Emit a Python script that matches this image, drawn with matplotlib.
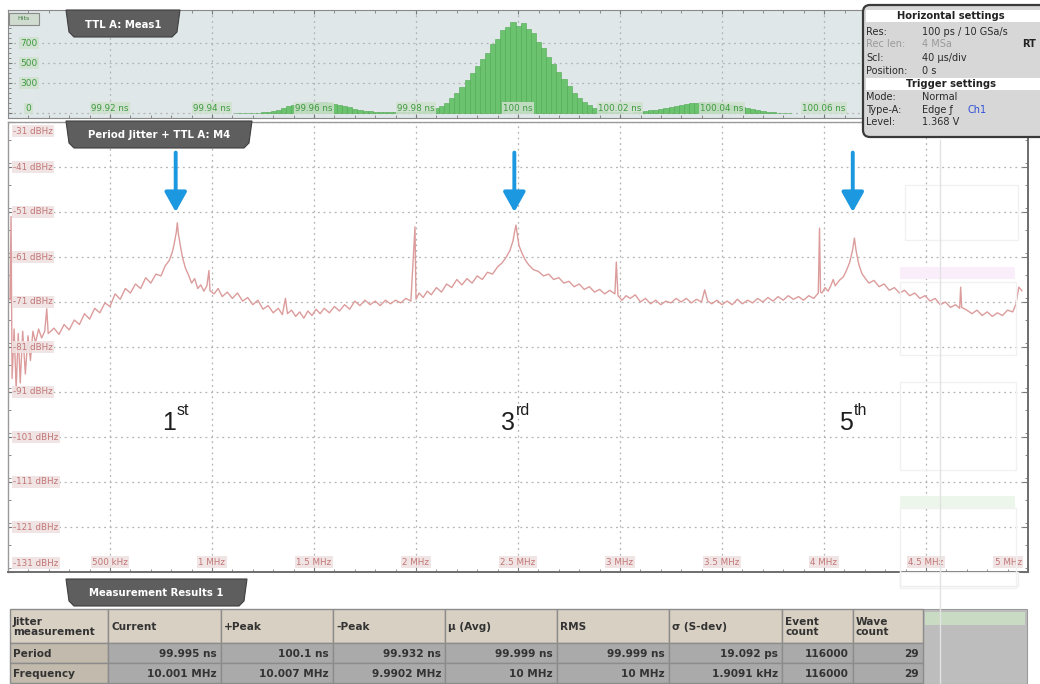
import numpy as np
import matplotlib
matplotlib.use("Agg")
import matplotlib.pyplot as plt
from matplotlib.patches import Rectangle, Polygon, FancyBboxPatch
from matplotlib.ticker import MultipleLocator

W, H = 1040, 684

# ---- period histogram (top panel) ----
HIST_START = 99.945   # ns, centre of first bin
HIST_BIN = 0.001      # ns
HIST_COUNTS = [0, 0, 0, 1, 3, 6, 12, 22, 35, 52, 66, 80, 92, 100, 108, 104, 112, 106, 98, 92,
               80, 70, 58, 44, 34, 25, 18, 12, 9, 8, 10, 12, 8, 11, 14, 12, 16, 22, 32, 46,
               70, 102, 150, 205, 262, 330, 398, 470, 545, 600, 690, 745, 830, 860, 915, 870,
               905, 845, 805, 715, 650, 560, 490, 415, 345, 270, 205, 150, 112, 76, 52, 34,
               22, 14, 9, 6, 4, 5, 8, 12, 18, 26, 34, 44, 55, 64, 74, 84, 92, 98, 104, 108,
               102, 106, 98, 92, 84, 78, 68, 58, 48, 38, 29, 21, 14, 9, 5, 2, 0]
HIST_TICKS = [99.92, 99.94, 99.96, 99.98, 100.0, 100.02, 100.04, 100.06]
HIST_LABELS = ["99.92 ns", "99.94 ns", "99.96 ns", "99.98 ns", "100 ns",
               "100.02 ns", "100.04 ns", "100.06 ns"]
HIST_YTICKS = [0, 300, 500, 700]

# ---- period jitter spectrum (main panel) ----
SPEC_FREQ = [0.010, 0.015, 0.020, 0.030, 0.040, 0.050, 0.060, 0.072, 0.085, 0.098, 0.110, 0.122,
             0.135, 0.150, 0.165, 0.180, 0.190, 0.197, 0.210,
             0.225, 0.25, 0.275, 0.30, 0.325, 0.35, 0.375, 0.40, 0.425, 0.45, 0.475, 0.50,
             0.525, 0.55, 0.575, 0.60, 0.625, 0.65, 0.675, 0.70, 0.725, 0.75, 0.77, 0.79,
             0.805, 0.815, 0.825, 0.830, 0.835, 0.845, 0.855, 0.87, 0.885, 0.90, 0.915, 0.93,
             0.945, 0.96, 0.975, 0.985, 0.99, 1.01, 1.03, 1.05, 1.075, 1.10, 1.125, 1.15,
             1.175, 1.20, 1.225, 1.25, 1.275, 1.30, 1.325, 1.345, 1.36, 1.37, 1.39, 1.41,
             1.43, 1.45, 1.47, 1.49, 1.51, 1.53, 1.55, 1.575, 1.60, 1.625, 1.65, 1.675,
             1.70, 1.725, 1.75, 1.775, 1.80, 1.825, 1.85, 1.875, 1.90, 1.925, 1.95, 1.975,
             1.995, 2.00, 2.015, 2.035, 2.055, 2.075, 2.10, 2.125, 2.15, 2.175, 2.20, 2.225,
             2.25, 2.275, 2.30, 2.325, 2.35, 2.375, 2.40, 2.42, 2.44, 2.46, 2.475, 2.485,
             2.49, 2.495, 2.505, 2.52, 2.535, 2.55, 2.575, 2.60, 2.625, 2.65, 2.675, 2.70,
             2.725, 2.75, 2.775, 2.80, 2.825, 2.85, 2.875, 2.90, 2.925, 2.95, 2.975, 2.982,
             2.99, 3.01, 3.03, 3.05, 3.075, 3.10, 3.125, 3.15, 3.175, 3.20, 3.225, 3.25,
             3.275, 3.30, 3.325, 3.35, 3.375, 3.40, 3.415, 3.43, 3.45, 3.475, 3.50, 3.525,
             3.55, 3.575, 3.60, 3.625, 3.65, 3.675, 3.70, 3.725, 3.75, 3.775, 3.80, 3.825,
             3.85, 3.875, 3.90, 3.925, 3.95, 3.972, 3.978, 3.983, 3.99, 4.005, 4.02, 4.035,
             4.045, 4.055, 4.075, 4.095, 4.11, 4.125, 4.14, 4.149, 4.158, 4.17, 4.185, 4.20,
             4.22, 4.245, 4.27, 4.295, 4.32, 4.345, 4.37, 4.395, 4.42, 4.445, 4.47, 4.495,
             4.52, 4.545, 4.57, 4.595, 4.62, 4.645, 4.665, 4.670, 4.675, 4.70, 4.725, 4.75,
             4.775, 4.80, 4.825, 4.85, 4.875, 4.90, 4.925, 4.94, 4.955, 4.97]
SPEC_DB = [-70.5, -52.0, -88.0, -77.0, -90.5, -78.0, -89.0, -77.5, -87.0, -78.5, -84.0, -77.5,
           -80.0, -77.0, -79.0, -77.5, -72.5, -78.0, -77.5,
           -76.8, -78.2, -76.0, -77.2, -75.0, -76.0, -73.6, -74.8, -72.4, -73.4, -71.2, -72.0,
           -69.2, -70.4, -68.0, -69.0, -67.0, -68.0, -65.6, -66.8, -64.8, -65.2, -63.0, -61.8,
           -60.0, -58.0, -55.5, -53.4, -55.8, -58.5, -61.0, -63.5, -65.0, -66.8, -65.8, -68.0,
           -67.2, -68.6, -67.4, -64.0, -68.5, -69.2, -68.0, -69.8, -68.8, -70.2, -69.0, -70.8,
           -70.0, -71.6, -70.6, -72.6, -71.8, -73.4, -72.4, -73.8, -70.2, -73.6, -72.8, -74.2,
           -73.2, -74.6, -73.0, -74.0, -72.6, -73.6, -72.4, -73.4, -72.0, -73.0, -71.6, -72.6,
           -70.8, -71.8, -70.6, -71.6, -70.8, -71.8, -70.6, -71.4, -70.6, -71.2, -70.2, -70.8,
           -54.3, -70.4, -69.0, -70.0, -68.6, -69.4, -67.8, -68.8, -67.0, -67.8, -66.0, -67.2,
           -65.8, -66.8, -65.2, -66.0, -64.4, -64.8, -63.2, -62.4, -61.2, -59.6, -57.5, -55.0,
           -53.9, -55.5, -58.5, -60.2, -61.6, -62.6, -63.8, -64.2, -65.2, -64.8, -66.0, -65.6,
           -66.8, -66.4, -67.6, -67.0, -68.2, -67.6, -68.8, -68.2, -69.2, -68.4, -69.2, -62.1,
           -69.6, -70.6, -69.6, -70.2, -69.4, -71.0, -70.2, -71.4, -70.6, -71.6, -70.8, -71.2,
           -70.2, -71.0, -70.2, -71.2, -70.4, -71.0, -68.3, -70.8, -71.4, -70.6, -71.6, -70.8,
           -71.6, -70.4, -71.4, -70.6, -71.2, -70.2, -71.0, -70.0, -70.8, -69.8, -70.6, -69.6,
           -70.4, -69.8, -70.6, -69.6, -70.2, -69.0, -54.6, -68.8, -69.0, -67.8, -68.6, -67.2,
           -66.0, -67.4, -66.2, -65.4, -64.0, -62.3, -59.5, -56.8, -59.8, -62.5, -64.6, -65.6,
           -66.8, -66.2, -67.6, -67.0, -68.4, -67.8, -69.0, -68.4, -69.6, -69.0, -70.2, -69.6,
           -70.8, -70.2, -71.6, -71.0, -72.2, -71.6, -72.4, -67.7, -72.2, -72.8, -73.6, -72.8,
           -74.0, -73.2, -74.2, -73.4, -74.0, -72.8, -73.2, -71.6, -67.7, -68.5]
FREQ_TICKS = [0.5, 1.0, 1.5, 2.0, 2.5, 3.0, 3.5, 4.0, 4.5, 5.0]
FREQ_LABELS = ["500 kHz", "1 MHz", "1.5 MHz", "2 MHz", "2.5 MHz", "3 MHz", "3.5 MHz",
               "4 MHz", "4.5 MHz", "5 MHz"]
DB_TICKS = [-31, -41, -51, -61, -71, -81, -91, -101, -111, -121, -131]

PEAK_FREQ = [0.830, 2.490, 4.149]
PEAK_NUM = ["1", "3", "5"]
PEAK_SUF = ["st", "rd", "th"]

# ---- measurement table ----
TABLE_HEAD = ["Jitter\nmeasurement", "Current", "+Peak", "-Peak", "\u00b5 (Avg)", "RMS",
              "\u03c3 (S-dev)", "Event\ncount", "Wave\ncount"]
ROW_NAMES = ["Period", "Frequency"]
PERIOD_VALUES = ["99.995 ns", "100.1 ns", "99.932 ns", "99.999 ns", "99.999 ns",
                 "19.092 ps", "116000", "29"]
FREQUENCY_VALUES = ["10.001 MHz", "10.007 MHz", "9.9902 MHz", "10 MHz", "10 MHz",
                    "1.9091 kHz", "116000", "29"]

HORIZ_SETTINGS = [("Res:", "100 ps / 10 GSa/s"), ("Rec len:", "4 MSa"),
                  ("Scl:", "40 \u00b5s/div"), ("Position:", "0 s")]
TRIG_SETTINGS = [("Mode:", "Normal"), ("Type-A:", "Edge \u0192"), ("Level:", "1.368 V")]

fig = plt.figure(figsize=(W / 100, H / 100), dpi=100)
fig.patch.set_facecolor("white")


def px_axes(x0, y0, x1, y1):
    return fig.add_axes([x0 / W, 1 - y1 / H, (x1 - x0) / W, (y1 - y0) / H])


grid_kw = dict(color="#b4b4b4", linestyle=(0, (1.5, 3)), linewidth=0.9)

# ---------------- top histogram ----------------
axh = px_axes(8, 10, 866, 118)
axh.set_facecolor("#dfe7e8")
centers = HIST_START + HIST_BIN * np.arange(len(HIST_COUNTS))
axh.bar(centers, HIST_COUNTS, width=HIST_BIN, color="#6cc36f", edgecolor="#4ea851",
        linewidth=0.4, zorder=2)
axh.set_xlim(99.9, 100.0682)
axh.set_ylim(-50, 1030)
axh.set_xticks(HIST_TICKS)
axh.set_yticks(HIST_YTICKS)
axh.xaxis.set_minor_locator(MultipleLocator(0.004))
axh.yaxis.set_minor_locator(MultipleLocator(50))
axh.grid(True, **grid_kw)
axh.set_axisbelow(True)
axh.tick_params(which="both", direction="in", top=True, bottom=True, left=True,
                labelbottom=False, labelleft=False, color="#7a7a7a", length=3)
axh.tick_params(which="minor", length=2)
for s in axh.spines.values():
    s.set_color("#8a8a8a")
hbox = dict(boxstyle="square,pad=0.15", fc="#cfe0cf", ec="none", alpha=0.85)
for t, lab in zip(HIST_TICKS, HIST_LABELS):
    axh.text(t, 0.09, lab, transform=axh.get_xaxis_transform(), ha="center", va="center",
             fontsize=6.3, color="#3f9a3f", bbox=hbox, zorder=4)
for v in HIST_YTICKS:
    axh.text(0.024, v, str(v), transform=axh.get_yaxis_transform(), ha="center",
             va="bottom" if v == 0 else "center", fontsize=6.5, color="#3f9a3f",
             bbox=hbox, zorder=4)

# ---------------- main spectrum ----------------
ax = px_axes(8, 122, 1028, 572)
ax.set_facecolor("white")
ax.plot(SPEC_FREQ, SPEC_DB, color="#dc9c9c", lw=1.0, zorder=3)
ax.set_xlim(0, 4.978)
ax.set_ylim(-131, -31)
ax.set_xticks(FREQ_TICKS)
ax.set_yticks(DB_TICKS)
ax.xaxis.set_minor_locator(MultipleLocator(0.1))
ax.yaxis.set_minor_locator(MultipleLocator(5))
ax.grid(True, **grid_kw)
ax.set_axisbelow(True)
ax.tick_params(which="both", direction="in", left=True, right=True, bottom=True,
               labelbottom=False, labelleft=False, color="#7a7a7a", length=4)
ax.tick_params(which="minor", length=2.5)
for name, s in ax.spines.items():
    s.set_color("#6e6e6e" if name in ("bottom", "right") else "#9a9a9a")
    s.set_linewidth(1.4 if name in ("bottom", "right") else 1.0)

mbox = dict(boxstyle="square,pad=0.15", fc="#efe2e2", ec="none", alpha=0.9)
for db in DB_TICKS:
    y = min(max(db, -129), -33)
    ax.text(0.005, y, f"{db} dBHz", transform=ax.get_yaxis_transform(), ha="left",
            va="center", fontsize=6.3, color="#c27676", bbox=mbox, zorder=4)
for f, lab in zip(FREQ_TICKS, FREQ_LABELS):
    edge = f > 4.9
    ax.text(4.97 if edge else f, 0.022, lab, transform=ax.get_xaxis_transform(),
            ha="right" if edge else "center", va="center", fontsize=6.3, color="#c27676",
            bbox=mbox, zorder=4)

for f, num, suf in zip(PEAK_FREQ, PEAK_NUM, PEAK_SUF):
    ax.annotate("", xy=(f - 0.008, -51.0), xytext=(f - 0.008, -37.8),
                arrowprops=dict(arrowstyle="-|>,head_length=0.75,head_width=0.42",
                                color="#1b98e0", lw=2.8, mutation_scale=16,
                                shrinkA=0, shrinkB=0), zorder=5)
    ax.text(f - 0.005, -99.4, num, ha="right", va="baseline", fontsize=18,
            family="Liberation Sans", color="#1e1e1e", zorder=5)
    ax.text(f - 0.002, -96.2, suf, ha="left", va="baseline", fontsize=11.5,
            family="Liberation Sans", color="#1e1e1e", zorder=5)

# ---------------- overlay (tabs, boxes, table) ----------------
ov = fig.add_axes([0, 0, 1, 1])
ov.set_xlim(0, W)
ov.set_ylim(H, 0)
ov.axis("off")
ov.patch.set_alpha(0)

# faint ghost windows on the right of the spectrum
for (x0, y0, x1, y1) in [(905, 185, 1018, 240), (900, 282, 1016, 355),
                         (900, 382, 1016, 470), (900, 508, 1016, 588)]:
    ov.add_patch(Rectangle((x0, y0), x1 - x0, y1 - y0, fc="none", ec="#f1f1f1", lw=1.0))
ov.add_patch(Rectangle((900, 267), 115, 12, fc="#fbeefb", ec="none"))
ov.add_patch(Rectangle((900, 496), 115, 12, fc="#edf6ea", ec="none"))
ov.plot([940, 940], [140, 684], color="#e2e2e2", lw=1.0)


def tab(x0, x1, y0, y1, label):
    pts = [(x0, y0), (x0 + 3, y1 - 5), (x0 + 8, y1), (x1 - 8, y1), (x1 - 3, y1 - 5), (x1, y0)]
    ov.add_patch(Polygon(pts, closed=True, fc="#5e5e5e", ec="#3f3f3f", lw=0.8))
    ov.text((x0 + x1) / 2, (y0 + y1) / 2 + 1, label, color="white", fontsize=7.3,
            fontweight="bold", ha="center", va="center")


tab(66, 180, 10, 37, "TTL A: Meas1")
tab(66, 252, 121, 148, "Period Jitter + TTL A: M4")
tab(66, 247, 579, 606, "Measurement Results 1")

# hits icon
ov.add_patch(Rectangle((9, 13), 30, 12, fc="#cfdccf", ec="#8a8a8a", lw=0.8))
ov.text(24, 19, "Hits", fontsize=4.5, color="#3f7a3f", ha="center", va="center")

# settings box
ov.add_patch(FancyBboxPatch((863, 5), 190, 132, boxstyle="round,pad=0,rounding_size=7",
                            fc="#d7d7d7", ec="#3a3a3a", lw=1.6))
ov.add_patch(Rectangle((866, 10), 174, 12, fc="white", ec="none"))
ov.add_patch(Rectangle((866, 78), 174, 12, fc="white", ec="none"))
ov.text(951, 16, "Horizontal settings", fontsize=7.2, fontweight="bold", ha="center",
        va="center", color="#222222")
ov.text(951, 84, "Trigger settings", fontsize=7.2, fontweight="bold", ha="center",
        va="center", color="#222222")
for (lab, val), y in zip(HORIZ_SETTINGS, [32, 44, 58, 71]):
    col = "#9a9a9a" if lab.startswith("Rec") else "#2a2a2a"
    ov.text(866, y, lab, fontsize=7, ha="left", va="center", color=col)
    ov.text(922, y, val, fontsize=7, ha="left", va="center", color=col)
ov.text(1036, 44, "RT", fontsize=7, fontweight="bold", ha="right", va="center", color="#222")
for (lab, val), y in zip(TRIG_SETTINGS, [97, 110, 122]):
    ov.text(866, y, lab, fontsize=7, ha="left", va="center", color="#2a2a2a")
    ov.text(922, y, val, fontsize=7, ha="left", va="center", color="#2a2a2a")
ov.text(968, 110, "Ch1", fontsize=7, ha="left", va="center", color="#2d4fd8")

# measurement table
col_edges = [10, 108, 221, 333, 445, 557, 669, 782, 853, 923]
row_edges = [609, 643, 663, 683]
ov.add_patch(Rectangle((923, 609), 104, 75, fc="#bdbdbd", ec="#9a9a9a", lw=0.8))
ov.add_patch(Rectangle((925, 612), 100, 13, fc="#c9dcc3", ec="none"))
ov.add_patch(Rectangle((900, 572), 118, 14, fc="none", ec="#eeeeee", lw=1.0))
for i, head in enumerate(TABLE_HEAD):
    x0, x1 = col_edges[i], col_edges[i + 1]
    ov.add_patch(Rectangle((x0, row_edges[0]), x1 - x0, row_edges[1] - row_edges[0],
                           fc="#d8d0c2", ec="#8c8c8c", lw=1.0))
    ov.text(x0 + 3, (row_edges[0] + row_edges[1]) / 2 + 1, head, fontsize=7.6,
            fontweight="bold", ha="left", va="center", color="#333333", linespacing=0.95)
for r, (name, vals) in enumerate(zip(ROW_NAMES, [PERIOD_VALUES, FREQUENCY_VALUES])):
    y0, y1 = row_edges[r + 1], row_edges[r + 2]
    ov.add_patch(Rectangle((col_edges[0], y0), col_edges[1] - col_edges[0], y1 - y0,
                           fc="#c2baac", ec="#8c8c8c", lw=1.0))
    ov.text(col_edges[0] + 3, (y0 + y1) / 2 + 1, name, fontsize=7.6, fontweight="bold",
            ha="left", va="center", color="#333333")
    for i, v in enumerate(vals):
        x0, x1 = col_edges[i + 1], col_edges[i + 2]
        ov.add_patch(Rectangle((x0, y0), x1 - x0, y1 - y0, fc="#aaaaaa", ec="#8c8c8c",
                               lw=1.0))
        ov.text(x1 - 4, (y0 + y1) / 2 + 1, v, fontsize=7.6, fontweight="bold", ha="right",
                va="center", color="#333333")

fig.savefig("out.png", dpi=100, facecolor="white")
plt.close(fig)
